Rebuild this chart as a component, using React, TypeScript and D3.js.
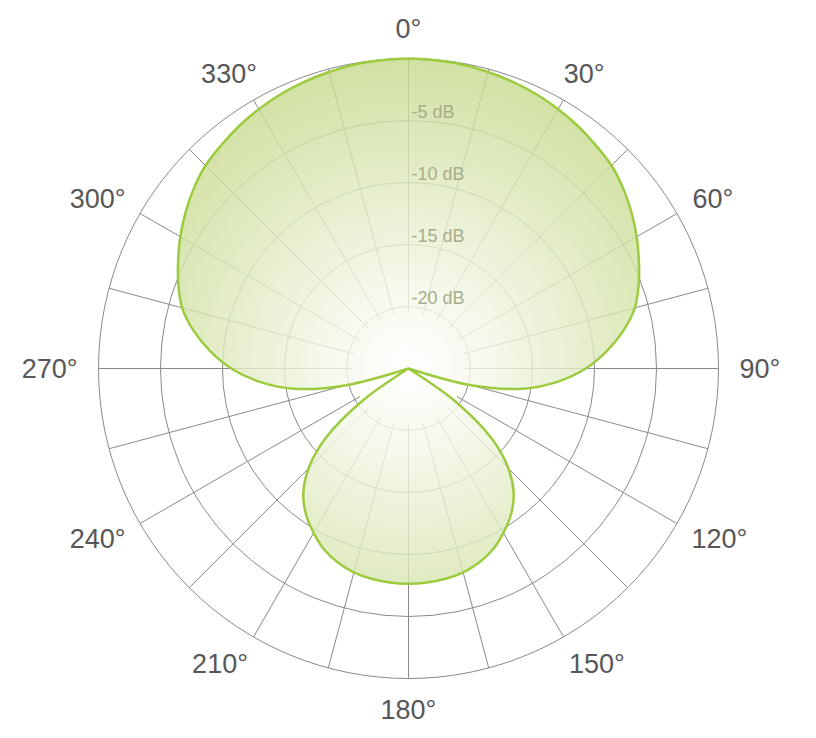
import React from 'react';
import * as d3 from 'd3';

// Angle axis ticks (degrees, clockwise from top)
const angleTicks: number[] = [0, 30, 60, 90, 120, 150, 180, 210, 240, 270, 300, 330];
const angleLabels: string[] = ['0°', '30°', '60°', '90°', '120°', '150°', '180°', '210°', '240°', '270°', '300°', '330°'];
// Spokes every 15 degrees
const spokeAngles: number[] = d3.range(0, 360, 15);
// Rings in dB
const ringLevels: number[] = [-20, -15, -10, -5, 0];
const ringLabelLevels: number[] = [-5, -10, -15, -20];
const ringLabels: string[] = ['-5 dB', '-10 dB', '-15 dB', '-20 dB'];

// Polar pattern: sampled every 5 degrees
const patternAngles: number[] = d3.range(0, 360, 5);
const patternDb: number[] = [
  0, -0.05, -0.1, -0.25, -0.4, -0.6, -0.85, -1.15, -1.5, -1.85, -2.4, -3.05,
  -3.75, -4.5, -5.25, -6.1, -7.4, -8.95, -10.7, -12.9, -15.6, -19.8, -25, -25,
  -25, -20.5, -16.3, -13.6, -11.8, -10.6, -9.7, -8.9, -8.35, -7.98, -7.78, -7.68,
  -7.65, -7.68, -7.78, -7.98, -8.35, -8.9, -9.7, -10.6, -11.8, -13.6, -16.3, -20.5,
  -25, -25, -25, -19.8, -15.6, -12.9, -10.7, -8.95, -7.4, -6.1, -5.25, -4.5,
  -3.75, -3.05, -2.4, -1.85, -1.5, -1.15, -0.85, -0.6, -0.4, -0.25, -0.1, -0.05,
];

const W = 816;
const H = 738;
const CX = 408.5;
const CY = 368.5;
const R = 310;
const FONT = "'Liberation Sans', Arial, Helvetica, sans-serif";

export default function App() {
  const r = d3.scaleLinear().domain([-25, 0]).range([0, R]).clamp(true);
  const rad = (deg: number) => (deg * Math.PI) / 180;

  const pts = patternAngles.map((a, i) => ({ a, db: patternDb[i] }));
  const line = d3
    .lineRadial<{ a: number; db: number }>()
    .angle((d) => rad(d.a))
    .radius((d) => r(d.db))
    .curve(d3.curveCatmullRomClosed.alpha(0.5));
  const pathD = line(pts) || '';

  const spokeInner = 56;
  const gridColor = '#8a8a8a';

  const labelFs = 27;
  const capH = 0.716 * labelFs;
  const labelR = 331;
  const nudge: Record<number, number> = { 150: 9, 210: -9 };

  return (
    <svg
      width={W}
      height={H}
      style={{ position: 'absolute', left: 0, top: 0, display: 'block', background: '#fff' }}
      fontFamily={FONT}
    >
      <defs>
        <radialGradient id="lobeFill" gradientUnits="userSpaceOnUse" cx={0} cy={0} r={R}>
          <stop offset="0" stopColor="#ffffff" />
          <stop offset="0.3" stopColor="#f1f6e3" />
          <stop offset="1" stopColor="#c6d98b" />
        </radialGradient>
      </defs>
      <g>
        {ringLevels.map((lv) => (
          <circle key={lv} cx={CX} cy={CY} r={r(lv)} fill="none" stroke={gridColor} strokeWidth={1} />
        ))}
        {spokeAngles.map((a) => {
          const s = Math.sin(rad(a));
          const c = -Math.cos(rad(a));
          return (
            <line
              key={a}
              x1={CX + s * spokeInner}
              y1={CY + c * spokeInner}
              x2={CX + s * R}
              y2={CY + c * R}
              stroke={gridColor}
              strokeWidth={1}
            />
          );
        })}
      </g>
      <g transform={`translate(${CX},${CY})`}>
        <path d={pathD} fill="url(#lobeFill)" fillOpacity={0.8} stroke="none" />
        <path d={pathD} fill="none" stroke="#9dcb3f" strokeWidth={2.5} strokeLinejoin="round" />
      </g>
      <g>
        {ringLabelLevels.map((lv, i) => (
          <text key={lv} x={CX + 3} y={CY - r(lv) - 3} fontSize={18} fill="#a6ad88">
            {ringLabels[i]}
          </text>
        ))}
      </g>
      <g>
        {angleTicks.map((a, i) => {
          const txt = angleLabels[i];
          const digits = txt.length - 1;
          const w = (digits * 0.556 + 0.4) * labelFs;
          const s = Math.sin(rad(a));
          const c = -Math.cos(rad(a));
          const x = CX + s * labelR + (w / 2) * s + (nudge[a] || 0);
          const y = CY + c * labelR + (capH / 2) * c;
          return (
            <text key={a} x={x} y={y + capH / 2} fontSize={labelFs} fill="#575757" textAnchor="middle">
              {txt}
            </text>
          );
        })}
      </g>
    </svg>
  );
}
